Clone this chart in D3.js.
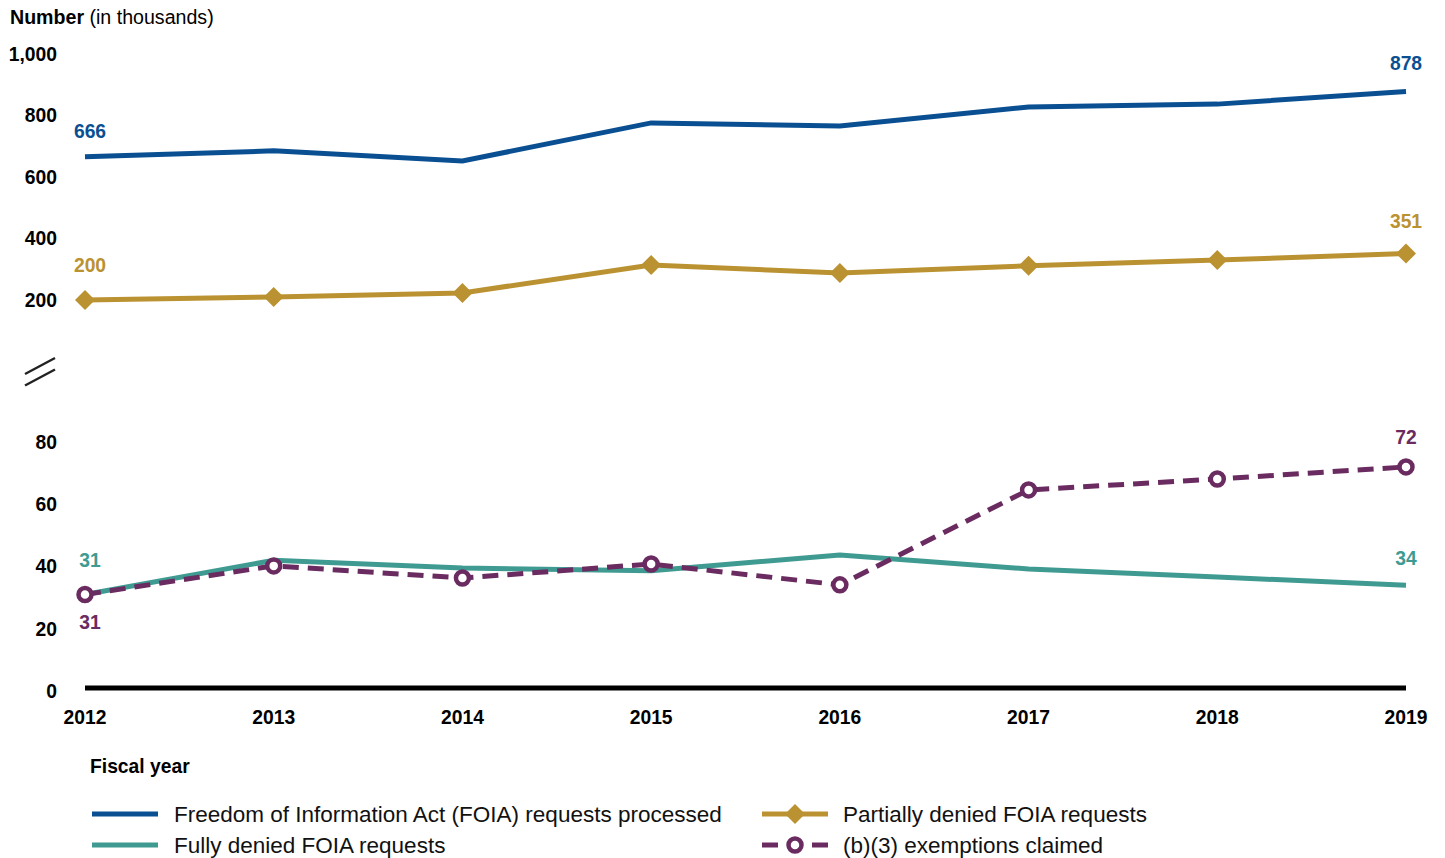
<!DOCTYPE html>
<html>
<head>
<meta charset="utf-8">
<script src="https://cdn.jsdelivr.net/npm/d3@7"></script>
<style>
  body { margin: 0; background: #fff; font-family: "Liberation Sans", Arial, sans-serif; }
  svg text { font-family: "Liberation Sans", Arial, sans-serif; }
</style>
</head>
<body>
<div id="chart"></div>
<script>
// data (numbers in thousands)
const years = [2012, 2013, 2014, 2015, 2016, 2017, 2018, 2019];
const processed = [666, 685, 652, 776, 766, 828, 837, 878];
const partiallyDenied = [200, 210, 223, 314, 288, 311, 330, 351];
const fullyDenied = [31, 42, 39.5, 38.6, 43.7, 39.2, 36.6, 34];
const b3Claimed = [31, 40.2, 36.3, 40.8, 34.1, 64.6, 68.1, 72];
const topTicks = [200, 400, 600, 800, 1000];
const bottomTicks = [0, 20, 40, 60, 80];

const width = 1445, height = 858;
const svg = d3.select("#chart").append("svg")
    .attr("width", width).attr("height", height);

const x = d3.scalePoint().domain(years).range([85, 1406]);
const yTop = d3.scaleLinear().domain([200, 1000]).range([300, 54]);
const yBot = d3.scaleLinear().domain([0, 80]).range([691, 442]);

// title
svg.append("text").attr("x", 10).attr("y", 24)
    .style("font-size", "19.6px")
    .html('<tspan font-weight="bold">Number</tspan> (in thousands)');

// y tick labels
const tickFmt = d3.format(",");
svg.append("g").selectAll("text").data(topTicks).join("text")
    .attr("x", 57).attr("y", d => yTop(d)).attr("dy", "0.35em")
    .attr("text-anchor", "end").attr("font-weight", "bold").style("font-size", "19.3px")
    .text(d => tickFmt(d));
svg.append("g").selectAll("text").data(bottomTicks).join("text")
    .attr("x", 57).attr("y", d => yBot(d)).attr("dy", "0.35em")
    .attr("text-anchor", "end").attr("font-weight", "bold").style("font-size", "19.3px")
    .text(d => tickFmt(d));

// axis break marks
svg.append("g").attr("stroke", "#222").attr("stroke-width", 2.5)
  .selectAll("line").data([0, 11.5]).join("line")
    .attr("x1", 25).attr("y1", d => 374 + d)
    .attr("x2", 55).attr("y2", d => 358 + d);

// baseline (x axis)
svg.append("line")
    .attr("x1", x(2012)).attr("x2", x(2019))
    .attr("y1", yBot(0) - 3).attr("y2", yBot(0) - 3)
    .attr("stroke", "#000").attr("stroke-width", 5);

// x tick labels
svg.append("g").selectAll("text").data(years).join("text")
    .attr("x", d => x(d)).attr("y", 724)
    .attr("text-anchor", "middle").attr("font-weight", "bold").style("font-size", "19.3px")
    .text(d => d);

svg.append("text").attr("x", 90).attr("y", 773)
    .attr("font-weight", "bold").style("font-size", "19.3px").text("Fiscal year");

const series = [
  {name: "Freedom of Information Act (FOIA) requests processed", values: processed, y: yTop, color: "#0a4f91"},
  {name: "Fully denied FOIA requests", values: fullyDenied, y: yBot, color: "#3f9b92"},
  {name: "Partially denied FOIA requests", values: partiallyDenied, y: yTop, color: "#bb9231", marker: "diamond"},
  {name: "(b)(3) exemptions claimed", values: b3Claimed, y: yBot, color: "#6a2b60", marker: "circle", dash: "16,9"}
];

series.forEach(s => {
  const pts = years.map((yr, i) => [x(yr), s.y(s.values[i])]);
  svg.append("path")
      .attr("d", d3.line()(pts))
      .attr("fill", "none").attr("stroke", s.color).attr("stroke-width", 5)
      .attr("stroke-dasharray", s.dash || null);
  if (s.marker === "diamond") {
    svg.append("g").selectAll("path").data(pts).join("path")
        .attr("transform", d => `translate(${d[0]},${d[1]}) rotate(45)`)
        .attr("d", d3.symbol().type(d3.symbolSquare).size(200)())
        .attr("fill", s.color);
  } else if (s.marker === "circle") {
    svg.append("g").selectAll("circle").data(pts).join("circle")
        .attr("cx", d => d[0]).attr("cy", d => d[1]).attr("r", 6.5)
        .attr("fill", "#fff").attr("stroke", s.color).attr("stroke-width", 4.5);
  }
});

// end-point value labels
const labels = [
  {s: 0, i: 0, dy: -25}, {s: 0, i: 7, dy: -28},
  {s: 2, i: 0, dy: -35}, {s: 2, i: 7, dy: -32},
  {s: 1, i: 0, dy: -34}, {s: 1, i: 7, dy: -27},
  {s: 3, i: 0, dy: 28}, {s: 3, i: 7, dy: -30}
];
svg.append("g").selectAll("text").data(labels).join("text")
    .attr("x", d => x(years[d.i]) + (d.i === 0 ? 5 : 0))
    .attr("y", d => series[d.s].y(series[d.s].values[d.i]) + d.dy)
    .attr("dy", "0.35em").attr("text-anchor", "middle")
    .attr("font-weight", "bold").style("font-size", "19.3px")
    .attr("fill", d => series[d.s].color)
    .text(d => d3.format(",")(series[d.s].values[d.i]));

// legend
const legendPos = [[92, 814], [92, 845], [762, 814], [762, 845]];
series.forEach((s, k) => {
  const [lx, ly] = legendPos[k];
  const g = svg.append("g").attr("transform", `translate(${lx},${ly})`);
  if (s.marker === "circle") {
    g.append("line").attr("x1", 0).attr("x2", 16).attr("stroke", s.color).attr("stroke-width", 5);
    g.append("line").attr("x1", 50).attr("x2", 66).attr("stroke", s.color).attr("stroke-width", 5);
    g.append("circle").attr("cx", 33).attr("r", 6.5).attr("fill", "#fff")
        .attr("stroke", s.color).attr("stroke-width", 4.5);
  } else {
    g.append("line").attr("x1", 0).attr("x2", 66).attr("stroke", s.color).attr("stroke-width", 5);
    if (s.marker === "diamond") {
      g.append("path").attr("transform", "translate(33,0) rotate(45)")
          .attr("d", d3.symbol().type(d3.symbolSquare).size(200)()).attr("fill", s.color);
    }
  }
  g.append("text").attr("x", s.marker ? 81 : 82).attr("y", 0).attr("dy", "0.35em")
      .style("font-size", "22.5px").attr("fill", "#111").text(s.name);
});
</script>
</body>
</html>
